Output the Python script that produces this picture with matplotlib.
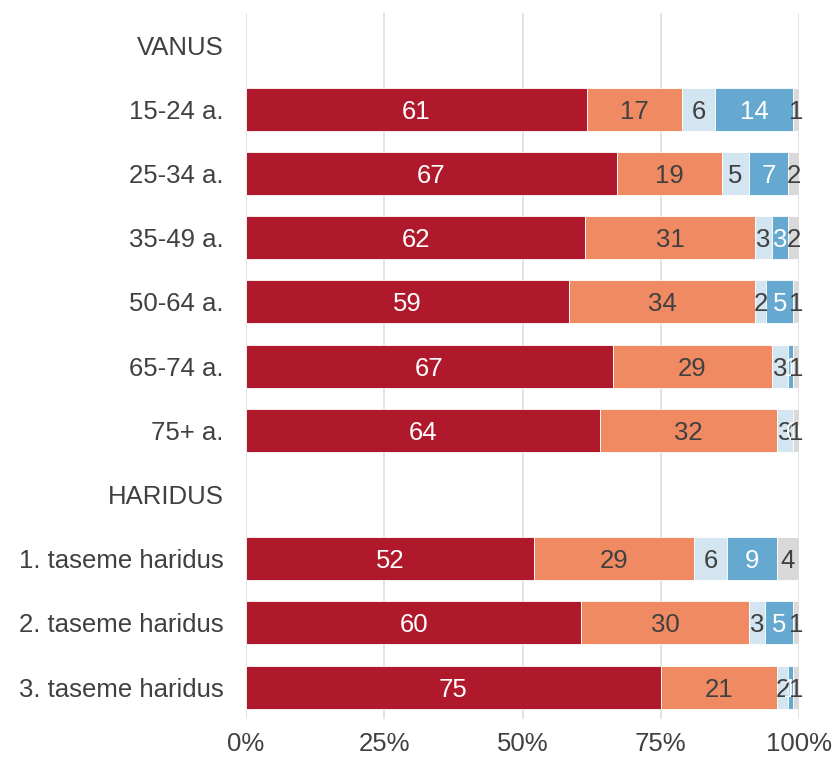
import matplotlib
matplotlib.use("Agg")
import matplotlib.pyplot as plt
import numpy as np

# Kategooriad (tühi rida = päis)
categories = ["VANUS", "15-24 a.", "25-34 a.", "35-49 a.", "50-64 a.", "65-74 a.", "75+ a.",
              "HARIDUS", "1. taseme haridus", "2. taseme haridus", "3. taseme haridus"]
is_header = [True, False, False, False, False, False, False, True, False, False, False]

# seeriate väärtused (%), päiste jaoks None
s1 = [None, 61, 67, 62, 59, 67, 64, None, 52, 60, 75]
s2 = [None, 17, 19, 31, 34, 29, 32, None, 29, 30, 21]
s3 = [None, 6, 5, 3, 2, 3, 3, None, 6, 3, 2]
s4 = [None, 14, 7, 3, 5, 1, 0, None, 9, 5, 1]
s5 = [None, 1, 2, 2, 1, 1, 1, None, 4, 1, 1]

series = [s1, s2, s3, s4, s5]
colors = ["#B0182C", "#F08A63", "#D2E5F0", "#66A9D0", "#D9D9D9"]
text_colors = ["white", "#404040", "#404040", "white", "#404040"]

plt.rcParams["font.family"] = ["Liberation Sans", "DejaVu Sans"]
FS = 18.5

fig = plt.figure(figsize=(8.34, 7.61), dpi=100)
ax = fig.add_axes([0.295, 0.055, 0.663, 0.928])

y = np.arange(len(categories))
for i in range(len(categories)):
    if is_header[i]:
        continue
    vals = [s[i] for s in series]
    tot = sum(vals)
    left = 0.0
    for k, v in enumerate(vals):
        w = v / tot * 100  # normaliseeritud 100%-le
        ax.barh(y[i], w, left=left, height=0.67, color=colors[k],
                edgecolor="white", linewidth=0.6, zorder=2)
        ax.text(left + w / 2, y[i], str(v), ha="center", va="center_baseline",
                fontsize=FS, color=text_colors[k], zorder=3)
        left += w

ax.set_xlim(0, 100)
ax.set_ylim(len(categories) - 0.5, -0.5)
ax.set_yticks(y)
ax.set_yticklabels(categories, fontsize=FS, color="#404040")
ax.set_xticks([0, 25, 50, 75, 100])
ax.set_xticklabels(["0%", "25%", "50%", "75%", "100%"], fontsize=FS, color="#404040")
ax.tick_params(axis="y", length=0, pad=16)
ax.tick_params(axis="x", length=0, pad=9)
ax.grid(axis="x", color="#DDDDDD", linewidth=1.2, zorder=0)
for sp in ax.spines.values():
    sp.set_visible(False)

fig.savefig("out.png", dpi=100)
